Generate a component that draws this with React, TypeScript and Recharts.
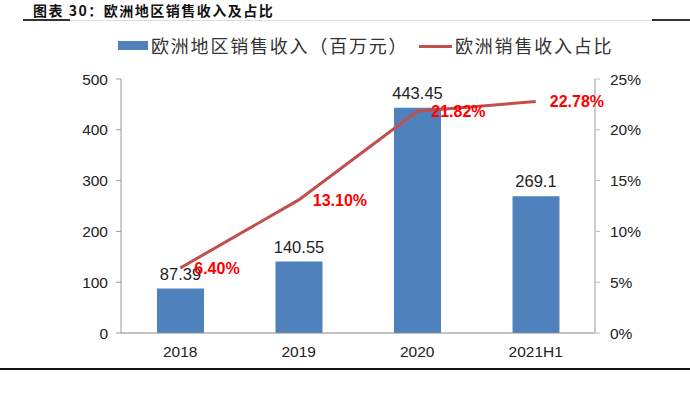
import React from 'react';
import { ComposedChart, Bar, Line, XAxis, YAxis, LabelList } from 'recharts';

const categories = ['2018', '2019', '2020', '2021H1'];
const revenue = [87.39, 140.55, 443.45, 269.1];
const share = [6.4, 13.1, 21.82, 22.78];
const leftTicks = [0, 100, 200, 300, 400, 500];
const rightTicks = [0, 5, 10, 15, 20, 25];

const data = categories.map((c, i) => ({ name: c, revenue: revenue[i], share: share[i] }));

const tickFont = { fontFamily: '"Liberation Sans", Arial, sans-serif', fontSize: 15.5, fill: '#222' };
const cjk = '"Noto Sans CJK SC", "Noto Sans", sans-serif';

export default function App() {
  return (
    <div style={{ position: 'absolute', left: 0, top: 0, width: 690, height: 393, background: '#fff' }}>
      <div style={{ position: 'absolute', left: 33, top: 0, fontFamily: cjk, fontWeight: 700, fontSize: 14, letterSpacing: 1.5, color: '#111', whiteSpace: 'nowrap' }}>
        图表 30：欧洲地区销售收入及占比
      </div>
      <div style={{ position: 'absolute', left: 23, top: 19, width: 47, height: 2, background: '#333' }} />
      <div style={{ position: 'absolute', left: 70, top: 20, width: 582, height: 1, background: '#ddd' }} />
      <div style={{ position: 'absolute', left: 652, top: 19, width: 38, height: 2, background: '#333' }} />
      <div style={{ position: 'absolute', left: 0, top: 368, width: 690, height: 2, background: '#111' }} />

      <div style={{ position: 'absolute', left: 118, top: 41, width: 30, height: 9, background: '#4F81BD' }} />
      <div style={{ position: 'absolute', left: 151, top: 33, fontFamily: cjk, fontSize: 18, letterSpacing: 1.8, color: '#333', whiteSpace: 'nowrap', lineHeight: '24px' }}>
        欧洲地区销售收入（百万元）
      </div>
      <div style={{ position: 'absolute', left: 419, top: 45, width: 33, height: 3, background: '#C0504D' }} />
      <div style={{ position: 'absolute', left: 455, top: 33, fontFamily: cjk, fontSize: 18, letterSpacing: 1.8, color: '#333', whiteSpace: 'nowrap', lineHeight: '24px' }}>
        欧洲销售收入占比
      </div>

      <div style={{ position: 'absolute', left: 0, top: 0 }}>
        <ComposedChart width={690} height={393} data={data} margin={{ top: 79, right: 35, left: 0, bottom: 30 }}>
          <XAxis
            xAxisId="edge"
            type="number"
            domain={[0, 4]}
            ticks={[0, 1, 2, 3, 4]}
            height={0}
            axisLine={false}
            tickLine={{ stroke: '#888' }}
            tickSize={5}
            tickFormatter={() => ''}
            allowDataOverflow
          />
          <XAxis
            xAxisId="cat"
            dataKey="name"
            height={30}
            axisLine={{ stroke: '#888' }}
            tickLine={false}
            tickSize={5}
            tickMargin={8}
            tick={tickFont}
          />
          <YAxis
            yAxisId="left"
            domain={[0, 500]}
            ticks={leftTicks}
            width={121}
            axisLine={{ stroke: '#999' }}
            tickLine={{ stroke: '#999' }}
            tickSize={5}
            tickMargin={8}
            tick={tickFont}
          />
          <YAxis
            yAxisId="right"
            orientation="right"
            domain={[0, 25]}
            ticks={rightTicks}
            width={60}
            axisLine={{ stroke: '#bbb', strokeWidth: 1.5 }}
            tickLine={{ stroke: '#bbb' }}
            tickSize={5}
            tickMargin={10}
            tick={tickFont}
            tickFormatter={(v: number) => `${v}%`}
          />
          <Bar xAxisId="cat" yAxisId="left" dataKey="revenue" fill="#4F81BD" barSize={47} isAnimationActive={false}>
            <LabelList dataKey="revenue" position="top" offset={9} style={{ ...tickFont, fontSize: 16.5 }} />
          </Bar>
          <Line
            xAxisId="cat"
            yAxisId="right"
            dataKey="share"
            stroke="#C0504D"
            strokeWidth={3}
            dot={false}
            isAnimationActive={false}
          >
            <LabelList
              dataKey="share"
              position="right"
              offset={14}
              formatter={(v: number) => `${v.toFixed(2)}%`}
              style={{ fontFamily: '"Liberation Sans", Arial, sans-serif', fontSize: 16, fontWeight: 700, fill: '#FF0000' }}
            />
          </Line>
        </ComposedChart>
      </div>
    </div>
  );
}
